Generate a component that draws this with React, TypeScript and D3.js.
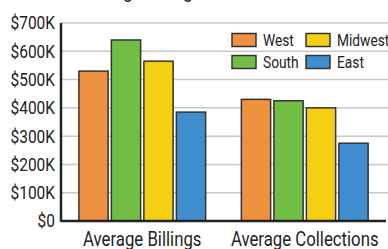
import * as React from 'react';
import * as d3 from 'd3';

const groups = ['Average Billings', 'Average Collections'];
const regions = ['West', 'South', 'Midwest', 'East'];
const billings = [530000, 640000, 565000, 385000];
const collections = [430000, 425000, 400000, 275000];
const yTicks = [0, 100000, 200000, 300000, 400000, 500000, 600000, 700000];
const colors = ['#ee9140', '#70bf44', '#f5d012', '#3f8fd0'];

const width = 388;
const height = 249;
const marginLeft = 61;
const marginRight = 2;
const marginTop = 23;
const marginBottom = 28;

const font = 'Roboto, sans-serif';
const squeeze = 0.86;

// condensed text: a normal font squeezed horizontally
const Narrow: React.FC<{ x: number; y: number; anchor?: string; size: number; children: React.ReactNode }> = ({
  x, y, anchor = 'start', size, children,
}) => (
  <g transform={`translate(${x},${y}) scale(${squeeze},1)`}>
    <text textAnchor={anchor} fontFamily={font} fontSize={size} fill="#222" dy="0.36em">
      {children}
    </text>
  </g>
);

const App: React.FC = () => {
  const values = [billings, collections];
  const x0 = d3.scaleBand<string>().domain(groups).range([marginLeft, width - marginRight]).paddingInner(0.22).paddingOuter(0.11);
  const x1 = d3.scaleBand<string>().domain(regions).range([0, x0.bandwidth()]).paddingInner(0.1);
  const y = d3.scaleLinear().domain([0, 700000]).range([height - marginBottom, marginTop]);
  const fmt = (v: number) => (v === 0 ? '$0' : `$${v / 1000}K`);

  // legend order: West, Midwest / South, East
  const legendItems = [
    { i: 0, col: 0, row: 0 },
    { i: 2, col: 1, row: 0 },
    { i: 1, col: 0, row: 1 },
    { i: 3, col: 1, row: 1 },
  ];

  return (
    <svg width={width} height={height} style={{ position: 'absolute', left: 0, top: 0, background: '#fff' }}>
      <Narrow x={202} y={-9} anchor="middle" size={20}>
        Average Billings and Collections
      </Narrow>
      <g>
        {yTicks.map((t) => (
          <g key={t}>
            {t > 0 && (
              <line x1={marginLeft} x2={width} y1={y(t)} y2={y(t)} stroke="#c8c8c8" strokeWidth={1.5} />
            )}
            <Narrow x={55} y={y(t)} anchor="end" size={18}>
              {fmt(t)}
            </Narrow>
          </g>
        ))}
      </g>
      <g stroke="#333" strokeWidth={1.5}>
        {groups.map((g, gi) =>
          regions.map((r, ri) => (
            <rect
              key={g + r}
              x={(x0(g) || 0) + (x1(r) || 0)}
              y={y(values[gi][ri])}
              width={x1.bandwidth()}
              height={y(0) - y(values[gi][ri])}
              fill={colors[ri]}
            />
          ))
        )}
      </g>
      <line x1={marginLeft} x2={marginLeft} y1={marginTop} y2={y(0) + 1} stroke="#222" strokeWidth={2.5} />
      <line x1={marginLeft} x2={width - marginRight} y1={y(0)} y2={y(0)} stroke="#222" strokeWidth={2.5} />
      {groups.map((g) => (
        <Narrow key={g} x={(x0(g) || 0) + x0.bandwidth() / 2} y={238.5} anchor="middle" size={19.5}>
          {g}
        </Narrow>
      ))}
      <g>
        {legendItems.map(({ i, col, row }) => (
          <g key={regions[i]} transform={`translate(${232 + col * 74},${33.5 + row * 22})`}>
            <rect width={24} height={13} fill={colors[i]} stroke="#333" strokeWidth={1.5} />
            <Narrow x={31} y={6.5} size={16}>
              {regions[i]}
            </Narrow>
          </g>
        ))}
      </g>
    </svg>
  );
};

export default App;
